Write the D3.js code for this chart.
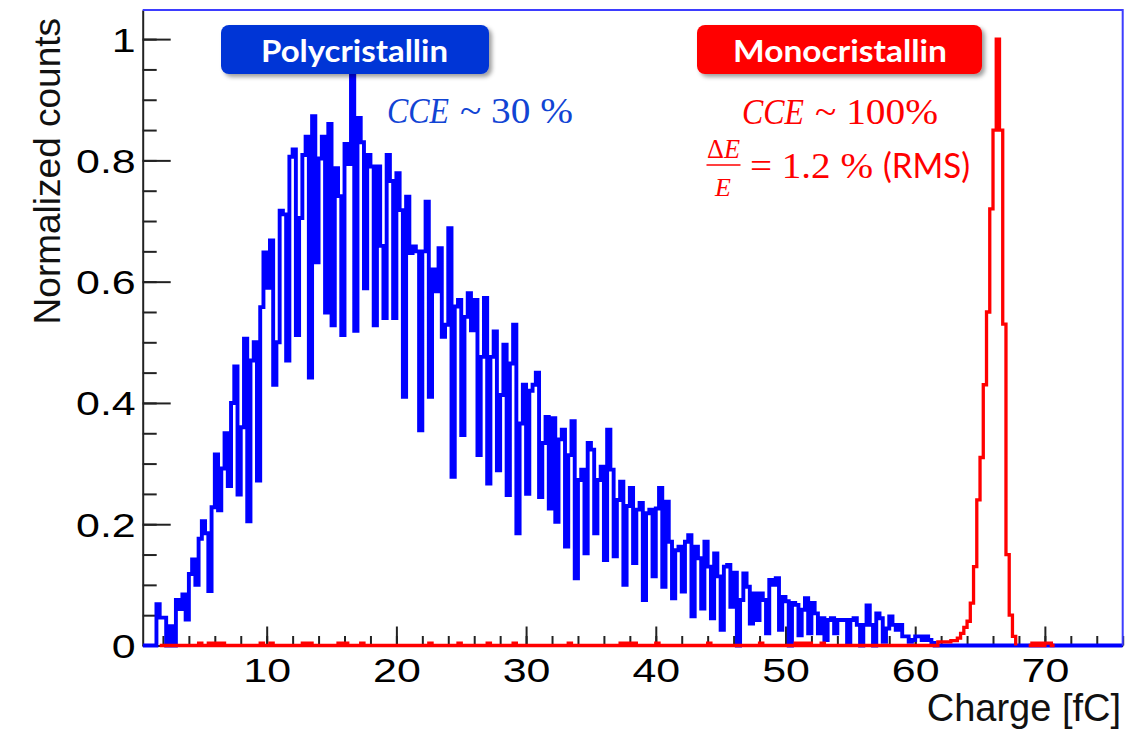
<!DOCTYPE html>
<html><head><meta charset="utf-8">
<script src="https://cdn.jsdelivr.net/npm/d3@7/dist/d3.min.js"></script>
<style>body{margin:0;background:#fff}svg{display:block}</style>
</head><body>
<svg id="c" width="1136" height="729"></svg>
<script>
// ---------------- data ----------------
const binWidth = 0.25;                 // fC per bin
const xDomain = [0.44, 76];            // Charge [fC]
const yDomain = [0, 1.048];            // Normalized counts
const xMajorTicks = [10, 20, 30, 40, 50, 60, 70];
const xMinorTicks = d3.range(2, 77, 2);
const yMajorTicks = [0, 0.2, 0.4, 0.6, 0.8, 1];
const yTickLabels = ["0", "0.2", "0.4", "0.6", "0.8", "1"];
const yMinorTicks = d3.range(0, 1.0001, 0.05);

// Polycristallin (blue) histogram, bins of 0.25 fC starting at 0.5 fC
const blueStart = 0.5;
const blueCounts = [
  0, 0, 0, 0,
  .068, .046, .046, 0,
  .032, 0, .075, .06,
  .084, .043, .118, .142,
  .10, .176, .205, .185,
  .09, .228, .315, .223,
  .292, .35, .263, .40,
  .46, .249, .36, .506,
  .205, .47, .50, .272,
  .558, .648, .59, .668,
  .43, .50, .717, .711,
  .47, .806, .818, .512,
  .705, .809, .839, .442,
  .873, .632, .803, .839,
  .549, .86, .528, .787,
  .741, .512, .827, .794,
  .945, .519, .870, .83,
  .589, .809, .79, .528,
  .79, .659, .54, .809,
  .766, .54, .779, .718,
  .41, .74, .647, .658,
  .65, .355, .65, .732,
  .41, .62, .584, .655,
  .509, .529, .688, .278,
  .559, .57, .347, .542,
  .581, .52, .57, .314,
  .476, .573, .267, .476,
  .518, .289, .413, .496,
  .248, .465, .529, .185,
  .366, .43, .25, .42,
  .43, .45, .245, .334,
  .377, .226, .375, .204,
  .34, .356, .163, .314,
  .37, .111, .273, .29,
  .152, .334, .323, .185,
  .273, .295, .141, .356,
  .29, .147, .24, .27,
  .1, .23, .26, .136,
  .224, .235, .075, .218,
  .224, .114, .226, .26,
  .097, .237, .171, .078,
  .157, .163, .089, .171,
  .182, .048, .163, .144,
  .061, .171, .13, .045,
  .152, .114, .026, .13,
  .133, .064, .12, 0,
  .075, .119, .097, .036,
  .086, .042, .086, .075,
  .02, .108, .1, .111,
  .026, .08, .073, 0,
  .07, .067, .017, .059,
  .078, .02, .07, .053,
  .02, .045, .009, .042,
  .045, .02, .042, .042,
  .042, .004, .042, .045,
  .034, 0, .034, .066,
  .034, 0, .053, .045,
  .006, .028, .048, .034,
  .026, .034, .015, .015,
  .006, .009, .015, .015,
  .009, .015, .009, .004,
  0, 0
];

// Monocristallin (red) histogram: drawn over these charge ranges
const redSegments = [[1.75, 67.75], [68.75, 70.75]];
// small isolated non-empty bins along the baseline (bin start, counts)
const redBumpCharge = [4.75, 5.5, 6.0, 6.5, 9.5, 10.25, 12.75, 13.25, 15.5, 16.0, 17.25,
  22.5, 24.75, 27.0, 29.0, 33.25, 37.25, 37.75, 38.25, 40.0, 44.0, 48.0, 50.75, 51.25,
  51.75, 52.75, 69.0, 69.5, 70.0, 70.25];
const redBumpCounts = [.004, .004, .004, .004, .004, .004, .004, .004, .004, .004, .004,
  .004, .004, .004, .004, .004, .004, .004, .004, .004, .004, .004, .004, .004,
  .004, .004, .004, .004, .004, .004];
// the peak, bins of 0.25 fC starting at 61.75 fC
const redPeakStart = 61.75;
const redPeakCounts = [.006, .006, .006, .006, .008, .008, .012, .02, .03, .04, .07, .13,
  .24, .31, .43, .55, .72, .85, 1.0, .85, .53, .15, .05, .015];

// ---------------- drawing ----------------
const svg = d3.select("#c");
const P = {left: 142.7, right: 1122.7, top: 10, bottom: 645.5};
const x = d3.scaleLinear().domain(xDomain).range([P.left, P.right]);
const y = d3.scaleLinear().domain(yDomain).range([P.bottom, P.top]);

const defs = svg.append("defs");
defs.append("clipPath").attr("id", "clip").append("rect")
  .attr("x", P.left).attr("y", P.top).attr("width", P.right - P.left).attr("height", P.bottom - P.top + 3);
const f = defs.append("filter").attr("id", "shadow").attr("x", "-10%").attr("y", "-20%").attr("width", "130%").attr("height", "160%");
f.append("feDropShadow").attr("dx", 3).attr("dy", 3).attr("stdDeviation", 2.2)
  .attr("flood-color", "#000").attr("flood-opacity", 0.38);

const axisColor = "#222";
const tickFont = "'Liberation Sans', Arial, Helvetica, sans-serif";

// minor ticks
svg.append("g").attr("transform", `translate(0,${P.bottom})`)
  .call(d3.axisBottom(x).tickValues(xMinorTicks).tickSize(-9.5).tickFormat(""))
  .call(g => g.select(".domain").remove());
svg.append("g").attr("transform", `translate(${P.left},0)`)
  .call(d3.axisLeft(y).tickValues(yMinorTicks).tickSize(-14).tickFormat(""))
  .call(g => g.select(".domain").remove());
// major ticks + labels
const xAxis = svg.append("g").attr("transform", `translate(0,${P.bottom})`)
  .call(d3.axisBottom(x).tickValues(xMajorTicks).tickSize(-19).tickSizeOuter(0).tickFormat(d3.format("d")));
const yAxis = svg.append("g").attr("transform", `translate(${P.left},0)`)
  .call(d3.axisLeft(y).tickValues(yMajorTicks).tickSize(-28).tickSizeOuter(0).tickFormat((d, i) => yTickLabels[i]));

svg.selectAll(".tick line").attr("stroke", axisColor).attr("stroke-width", 2);
svg.selectAll(".domain").attr("stroke", axisColor).attr("stroke-width", 2);
xAxis.selectAll("text").attr("y", 0).attr("dy", null)
  .attr("font-family", tickFont).attr("font-size", 33).attr("fill", "#000")
  .attr("transform", "translate(0,36.5) scale(1.3,1)");
yAxis.selectAll("text").attr("x", 0).attr("dy", null)
  .attr("font-family", tickFont).attr("font-size", 33).attr("fill", "#000")
  .attr("transform", "translate(-7,12) scale(1.3,1)");

// axis titles
svg.append("text").attr("transform", "translate(60,18) rotate(-90)")
  .attr("text-anchor", "end").attr("font-family", tickFont).attr("font-size", 37)
  .attr("fill", "#111").text("Normalized counts");
svg.append("text").attr("x", 1121).attr("y", 721)
  .attr("text-anchor", "end").attr("font-family", tickFont).attr("font-size", 38)
  .attr("fill", "#111").text("Charge [fC]");

// histograms
const line = d3.line().x(d => x(d[0])).y(d => y(d[1])).curve(d3.curveStepAfter);
function stepPoints(start, counts) {
  const pts = [[start, 0]];
  counts.forEach((c, i) => pts.push([start + i * binWidth, c]));
  const end = start + counts.length * binWidth;
  pts.push([end, counts[counts.length - 1]]);
  pts.push([end, 0]);
  return pts;
}
const hg = svg.append("g").attr("clip-path", "url(#clip)");

// blue: leading empty range from axis start, trailing empty bins to axis end
const blueEnd = blueStart + blueCounts.length * binWidth;
const blueTrail = d3.range(Math.round((xDomain[1] - blueEnd) / binWidth)).map(() => 0);
const bluePts = [[xDomain[0], 0]].concat(stepPoints(blueStart, blueCounts.concat(blueTrail)));
hg.append("path").attr("d", line(bluePts)).attr("fill", "none")
  .attr("stroke", "#0000ff").attr("stroke-width", 3.9).attr("stroke-linejoin", "miter");

// red: build full bins per segment from the peak + bump tables
const key = v => Math.round(v / binWidth);
const redMap = new Map();
redBumpCharge.forEach((c, i) => redMap.set(key(c), redBumpCounts[i]));
redPeakCounts.forEach((c, i) => redMap.set(key(redPeakStart) + i, c));
redSegments.forEach(([s, e]) => {
  const n = key(e) - key(s);
  const counts = d3.range(n).map(i => redMap.get(key(s) + i) || 0);
  hg.append("path").attr("d", line(stepPoints(s, counts))).attr("fill", "none")
    .attr("stroke", "#ff0000").attr("stroke-width", 3.3).attr("stroke-linejoin", "miter");
});

// blue frame (top and right)
svg.append("path")
  .attr("d", `M${P.left},${P.top}H${P.right}V${P.bottom}`)
  .attr("fill", "none").attr("stroke", "#3d3dff").attr("stroke-width", 2);

// ---------------- annotations ----------------
const boxes = [
  {text: "Polycristallin", x0: 221, x1: 489, fill: "#0535d6", tx: 261, tl: 187},
  {text: "Monocristallin", x0: 697, x1: 982, fill: "#ff0000", tx: 733, tl: 214}
];
boxes.forEach(b => {
  svg.append("rect").attr("x", b.x0).attr("y", 25).attr("width", b.x1 - b.x0).attr("height", 49)
    .attr("rx", 8).attr("fill", b.fill).attr("filter", "url(#shadow)");
  svg.append("text").attr("x", b.tx).attr("y", 62)
    .attr("font-family", "Lato, 'Open Sans', sans-serif").attr("font-weight", "bold").attr("font-size", 30)
    .attr("fill", "#fff").attr("textLength", b.tl).attr("lengthAdjust", "spacingAndGlyphs").text(b.text);
});

const serif = "'Liberation Serif', 'DejaVu Serif', serif";
const blueText = "#1144d4", redText = "#ff0000";
function mtext(t, xx, yy, size, col, len, italic, fam) {
  const e = svg.append("text").attr("x", xx).attr("y", yy).attr("font-family", fam || serif)
    .attr("font-size", size).attr("fill", col).text(t);
  if (italic) e.attr("font-style", "italic");
  if (len) e.attr("textLength", len).attr("lengthAdjust", "spacingAndGlyphs");
  return e;
}
mtext("CCE", 387, 123, 36, blueText, 62, true);
mtext("~ 30 %", 460, 123, 36, blueText, 113, false);
mtext("CCE", 742, 124, 36, redText, 62, true);
mtext("~ 100%", 815, 124, 36, redText, 123, false);
// ΔE / E fraction
const fr = svg.append("text").attr("x", 707).attr("y", 158).attr("font-family", serif)
  .attr("font-size", 27).attr("fill", redText).attr("textLength", 33).attr("lengthAdjust", "spacingAndGlyphs");
fr.append("tspan").text("Δ");
fr.append("tspan").attr("font-style", "italic").text("E");
svg.append("line").attr("x1", 706.5).attr("x2", 740.5).attr("y1", 165).attr("y2", 165)
  .attr("stroke", redText).attr("stroke-width", 1.6);
mtext("E", 723, 196, 26, redText, null, true).attr("text-anchor", "middle");
mtext("= 1.2 %", 750, 178, 36, redText, 123, false);
mtext("(RMS)", 883, 178, 35, redText, 87, false, "Lato, 'Open Sans', sans-serif");
</script>
</body></html>
